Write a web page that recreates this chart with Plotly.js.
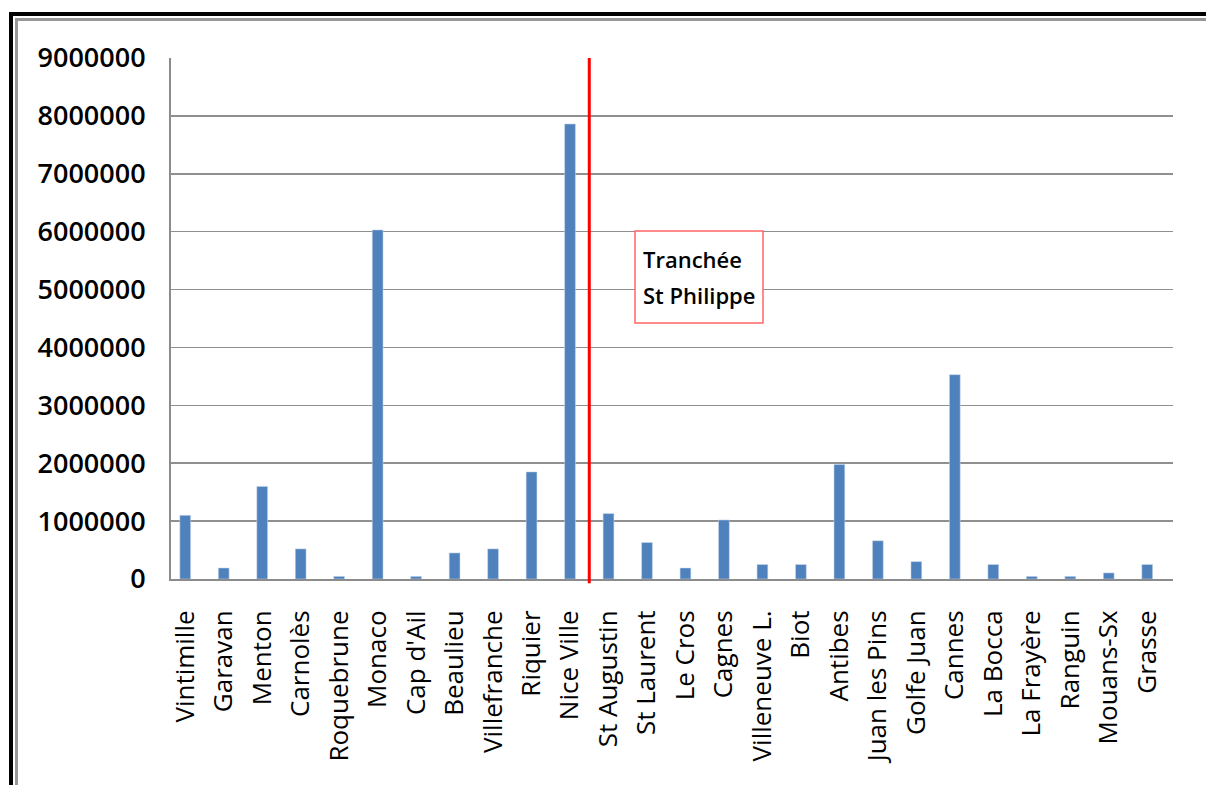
<!DOCTYPE html>
<html>
<head>
<meta charset="utf-8">
<script src="https://cdn.plot.ly/plotly-3.0.1.min.js"></script>
<style>
  html, body { margin: 0; padding: 0; background: #fff; }
  #wrap { position: relative; width: 1206px; height: 785px; overflow: hidden; }
  #chart { position: absolute; left: 0; top: 0; width: 1206px; height: 785px; }
  .fr { position: absolute; pointer-events: none; }
</style>
</head>
<body>
<div id="wrap">
  <div id="chart"></div>
  <div class="fr" style="left:9px; top:12px; width:1197px; height:4px; background:#000;"></div>
  <div class="fr" style="left:9px; top:12px; width:4px; height:773px; background:#000;"></div>
  <div class="fr" style="left:15px; top:18px; width:1191px; height:3px; background:#979797;"></div>
  <div class="fr" style="left:15px; top:18px; width:3px; height:767px; background:#979797;"></div>
</div>
<script>
const categories = ["Vintimille","Garavan","Menton","Carnolès","Roquebrune","Monaco","Cap d'Ail","Beaulieu","Villefranche","Riquier","Nice Ville","St Augustin","St Laurent","Le Cros","Cagnes","Villeneuve L.","Biot","Antibes","Juan les Pins","Golfe Juan","Cannes","La Bocca","La Frayère","Ranguin","Mouans-Sx","Grasse"];
const values = [1100000,190000,1600000,520000,45000,6030000,45000,450000,520000,1850000,7860000,1130000,630000,190000,1020000,250000,250000,1980000,660000,300000,3530000,250000,45000,45000,105000,250000];
const yTicks = [0,1000000,2000000,3000000,4000000,5000000,6000000,7000000,8000000,9000000];
const yTickLabels = ["0","1000000","2000000","3000000","4000000","5000000","6000000","7000000","8000000","9000000"];
const dividerPosition = 10.5; // between Nice Ville and St Augustin
const annotationLines = ["Tranchée","St Philippe"];

const idx = categories.map((c,i)=>i);

const trace = {
  type: 'bar',
  x: idx,
  y: values,
  width: 0.28,
  marker: { color: '#4f81bd', line: { color: 'rgba(200,215,235,0.9)', width: 0.6 } },
  hoverinfo: 'x+y'
};

const W = 1206, H = 785;
const mL = 171, mR = 33, mT = 58, mB = 206;
const pw = W - mL - mR, ph = H - mT - mB;
function px2x(p){ return (p - mL) / pw; }
function px2y(p){ return (H - mB - p) / ph; }

const layout = {
  width: W, height: H,
  margin: { l: mL, r: mR, t: mT, b: mB, pad: 0 },
  paper_bgcolor: '#fff', plot_bgcolor: '#fff',
  showlegend: false,
  xaxis: {
    type: 'linear',
    range: [-0.37, 25.67],
    tickmode: 'array',
    tickvals: idx,
    ticktext: categories,
    tickangle: -90,
    ticks: '',
    ticklabelstandoff: 19,
    showgrid: false,
    zeroline: false,
    showline: true,
    linecolor: '#8c8c8c',
    linewidth: 2,
    tickfont: { family: 'Open Sans, sans-serif', size: 26, color: '#000' }
  },
  yaxis: {
    range: [0, 9000000],
    tickmode: 'array',
    tickvals: yTicks,
    ticktext: yTickLabels,
    ticks: '',
    ticklabelstandoff: 18,
    showgrid: true,
    gridcolor: '#8f8f8f',
    gridwidth: 1.6,
    zeroline: false,
    showline: true,
    linecolor: '#8c8c8c',
    linewidth: 2,
    tickfont: { family: 'Open Sans, sans-serif', size: 27, color: '#000', weight: 600 }
  },
  shapes: [
    { type: 'line', xref: 'x', yref: 'paper', x0: dividerPosition, x1: dividerPosition, y0: -0.008, y1: 1,
      line: { color: '#ff0000', width: 3 } },
    { type: 'rect', xref: 'paper', yref: 'paper', x0: px2x(635), x1: px2x(763), y0: px2y(323), y1: px2y(231),
      line: { color: '#ff6666', width: 1.5 }, fillcolor: '#ffffff', layer: 'above' }
  ],
  annotations: [
    { xref: 'paper', yref: 'paper', x: px2x(641), y: px2y(259), xanchor: 'left', yanchor: 'middle',
      text: annotationLines[0], showarrow: false,
      font: { family: 'Open Sans, sans-serif', size: 22, color: '#000', weight: 600 } },
    { xref: 'paper', yref: 'paper', x: px2x(641), y: px2y(295), xanchor: 'left', yanchor: 'middle',
      text: annotationLines[1], showarrow: false,
      font: { family: 'Open Sans, sans-serif', size: 22, color: '#000', weight: 600 } }
  ]
};

Plotly.newPlot('chart', [trace], layout, { displayModeBar: false, staticPlot: true });
</script>
</body>
</html>
